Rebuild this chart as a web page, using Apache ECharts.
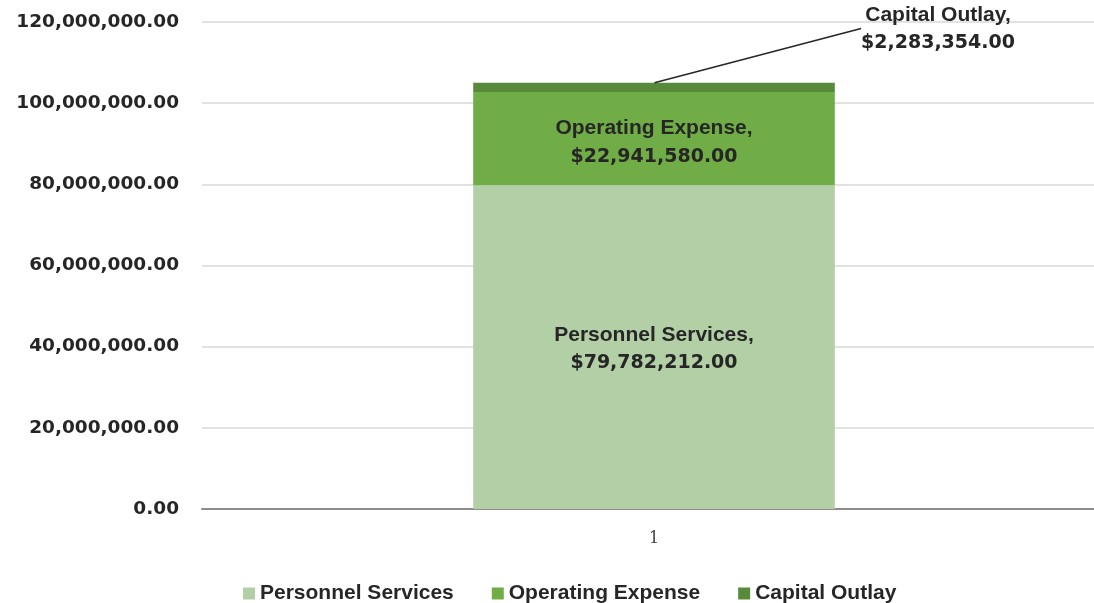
<!DOCTYPE html>
<html>
<head>
<meta charset="utf-8">
<script src="https://cdn.jsdelivr.net/npm/echarts@6/dist/echarts.min.js"></script>
<style>
  html, body { margin: 0; padding: 0; background: #fff; overflow: hidden; }
  /* a little wider than the window: the plot runs off the right edge in the original */
  #chart { width: 1106px; height: 603px; }
</style>
</head>
<body>
<div id="chart"></div>
<script>
  var categories = ['1']
  var seriesNames = ['Personnel Services', 'Operating Expense', 'Capital Outlay']
  var personnel = [79782212]
  var operating = [22941580]
  var capital = [2283354]
  var yTicks = [0, 20000000, 40000000, 60000000, 80000000, 100000000, 120000000]

  var font = "'Liberation Sans', Arial, sans-serif"
  var colors = ['#b3cfa6', '#70ad47', '#578a3a']

  function money(v) {
    return '$' + v.toLocaleString('en-US', { minimumFractionDigits: 2, maximumFractionDigits: 2 })
  }

  // top of the stack, where the capital outlay callout is anchored
  var stackTop = categories.map(function (c, i) {
    return personnel[i] + operating[i] + capital[i]
  })

  var chart = echarts.init(document.getElementById('chart'))
  var richText = {
    n: { color: '#262626', fontFamily: font, fontWeight: 'bold', fontSize: 21, lineHeight: 28 },
    v: { color: '#262626', fontFamily: "'DejaVu Sans', sans-serif", fontWeight: 'bold', fontSize: 19, lineHeight: 28 }
  }
  function calloutText(name, value) {
    return '{n|' + name + ',}\n{v|' + money(value) + '}'
  }
  var option = {
    animation: false,
    color: colors,
    grid: { left: 202, right: 0, top: 22, bottom: 94 },
    legend: {
      top: 578,
      left: 238,
      itemWidth: 12,
      itemHeight: 12,
      itemGap: 38,
      icon: 'rect',
      textStyle: { color: '#262626', fontFamily: font, fontWeight: 'bold', fontSize: 21 },
      data: seriesNames
    },
    xAxis: {
      type: 'category',
      data: categories,
      axisTick: { show: false },
      axisLine: { lineStyle: { color: '#8c8c8c', width: 2 } },
      axisLabel: { color: '#404040', fontSize: 16, margin: 22, fontFamily: "'DejaVu Serif', serif" }
    },
    yAxis: {
      type: 'value',
      min: yTicks[0],
      max: yTicks[yTicks.length - 1],
      interval: 20000000,
      axisLine: { show: false },
      axisTick: { show: false },
      splitLine: { lineStyle: { color: '#d9d9d9', width: 1.5 } },
      axisLabel: {
        color: '#262626',
        fontFamily: "'DejaVu Sans', sans-serif",
        fontWeight: 'bold',
        fontSize: 18.5,
        margin: 23,
        formatter: function (v) {
          return v.toLocaleString('en-US', { minimumFractionDigits: 2, maximumFractionDigits: 2 })
        }
      }
    },
    series: [
      {
        name: seriesNames[0],
        type: 'bar',
        stack: 'total',
        barWidth: '40%',
        data: personnel,
        label: {
          show: true,
          position: 'inside',
          offset: [0, 2],
          rich: richText,
          formatter: function (p) { return calloutText(p.seriesName, p.value) }
        }
      },
      {
        name: seriesNames[1],
        type: 'bar',
        stack: 'total',
        data: operating,
        label: {
          show: true,
          position: 'inside',
          offset: [0, 4],
          rich: richText,
          formatter: function (p) { return calloutText(p.seriesName, p.value) }
        }
      },
      {
        name: seriesNames[2],
        type: 'bar',
        stack: 'total',
        data: capital,
        label: { show: false }
      },
      {
        // invisible anchor for the callout label
        name: 'callout',
        type: 'scatter',
        data: stackTop,
        symbolSize: 1,
        itemStyle: { color: 'rgba(0,0,0,0)', opacity: 1 },
        silent: true,
        label: {
          show: true,
          position: 'top',
          rich: richText,
          formatter: function (p) { return calloutText(seriesNames[2], capital[p.dataIndex]) }
        },
        labelLayout: { x: 938, y: 29, align: 'center', verticalAlign: 'middle' },
        labelLine: { show: true, lineStyle: { color: '#262626', width: 1.5 } }
      }
    ]
  }
  chart.setOption(option)
</script>
</body>
</html>
